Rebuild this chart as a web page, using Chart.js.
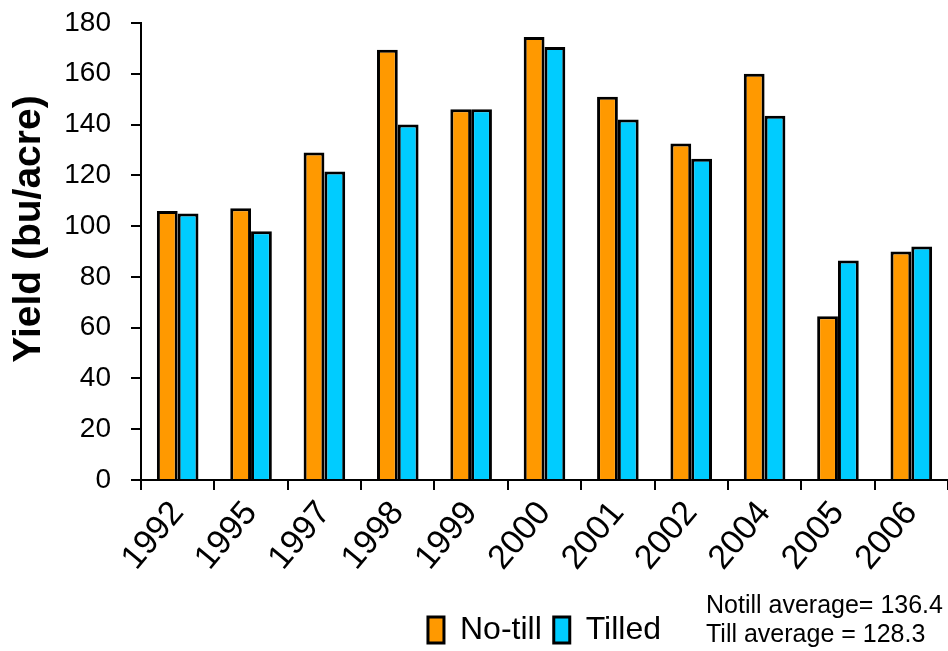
<!DOCTYPE html>
<html>
<head>
<meta charset="utf-8">
<script src="https://cdn.jsdelivr.net/npm/chart.js@4/dist/chart.umd.min.js"></script>
<style>
  html, body { margin: 0; padding: 0; background: #ffffff; overflow: hidden; }
  #wrap { width: 948px; height: 651px; position: relative; }
</style>
</head>
<body>
<div id="wrap"><canvas id="yieldChart" width="948" height="651"></canvas></div>
<script>
// Corn yield by year, no-till vs. tilled plots
const years = ['1992', '1995', '1997', '1998', '1999', '2000', '2001', '2002', '2004', '2005', '2006'];
const noTill = [106, 107, 129, 169.5, 146, 174.5, 151, 132.5, 160, 64.5, 90];
const tilled = [105, 98, 121.5, 140, 146, 170.5, 142, 126.5, 143.5, 86.5, 92];
const yTicks = [0, 20, 40, 60, 80, 100, 120, 140, 160, 180];
const seriesNames = ['No-till', 'Tilled'];
const yTitle = 'Yield (bu/acre)';
const averageNotes = ['Notill average= 136.4', 'Till average = 128.3'];

const FONT = '"Liberation Sans", Arial, sans-serif';

// Rotated y-axis title and the two average notes in the bottom-right corner
const textPlugin = {
  id: 'extraText',
  afterDraw(chart) {
    const ctx = chart.ctx;
    ctx.save();
    ctx.fillStyle = '#000';
    ctx.translate(29, 229);
    ctx.rotate(-Math.PI / 2);
    ctx.font = 'bold 39px ' + FONT;
    ctx.textAlign = 'center';
    ctx.textBaseline = 'middle';
    ctx.fillText(yTitle, 0, 0);
    ctx.restore();

    ctx.save();
    ctx.fillStyle = '#000';
    ctx.font = '25px ' + FONT;
    ctx.textAlign = 'left';
    ctx.textBaseline = 'alphabetic';
    ctx.fillText(averageNotes[0], 706, 613);
    ctx.fillText(averageNotes[1], 706, 642);
    ctx.restore();
  }
};

new Chart(document.getElementById('yieldChart'), {
  type: 'bar',
  data: {
    labels: years,
    datasets: [
      { label: seriesNames[0], data: noTill, backgroundColor: '#FF9900', borderColor: '#000', borderWidth: 3 },
      { label: seriesNames[1], data: tilled, backgroundColor: '#00CCFF', borderColor: '#000', borderWidth: 3 }
    ]
  },
  options: {
    responsive: false,
    devicePixelRatio: 1,
    animation: false,
    layout: { padding: { top: 23, right: 0, bottom: -5, left: 0 } },
    datasets: { bar: { categoryPercentage: 0.567, barPercentage: 1.0 } },
    scales: {
      x: {
        type: 'category',
        offset: true,
        grid: { display: true, offset: true, drawOnChartArea: false, color: '#000', lineWidth: 2, tickLength: 10 },
        border: { display: true, color: '#000', width: 2 },
        ticks: {
          color: '#000',
          font: { family: FONT, size: 34 },
          maxRotation: 50, minRotation: 50,
          padding: 4,
          autoSkip: false
        },
        afterFit(scale) {
          scale.height = 122;
          scale.paddingLeft = 0;
          scale.paddingRight = 0;
        }
      },
      y: {
        min: 0, max: 180,
        afterBuildTicks(scale) { scale.ticks = yTicks.map(v => ({ value: v })); },
        grid: { display: true, drawOnChartArea: false, color: '#000', lineWidth: 2, tickLength: 10 },
        border: { display: true, color: '#000', width: 2 },
        ticks: { color: '#000', font: { family: FONT, size: 28 }, padding: 20 },
        afterFit(scale) {
          scale.width = 141;
          scale.paddingTop = 0;
          scale.paddingBottom = 0;
        }
      }
    },
    plugins: {
      legend: {
        position: 'bottom',
        fullSize: false,
        labels: {
          color: '#000',
          font: { family: FONT, size: 32 },
          boxWidth: 16,
          boxHeight: 26,
          padding: 12
        }
      },
      tooltip: { enabled: false }
    }
  },
  plugins: [textPlugin]
});
</script>
</body>
</html>
